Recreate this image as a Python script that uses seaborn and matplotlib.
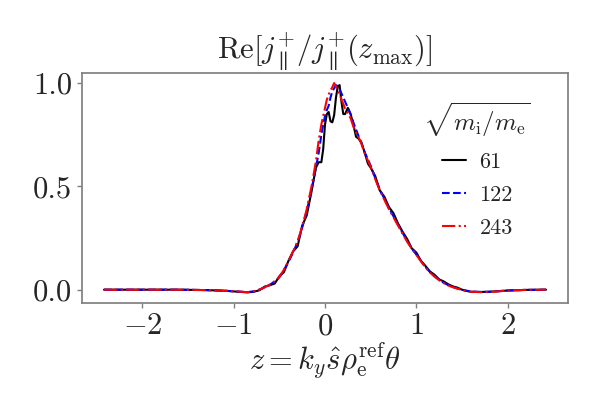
import numpy as np
import pandas as pd
import matplotlib
matplotlib.use("Agg")
import matplotlib.pyplot as plt
import seaborn as sns

# data
z = [-2.42, -2.0, -1.6, -1.3, -1.1, -0.95, -0.85, -0.78, -0.72, -0.66,
     -0.60, -0.55, -0.50, -0.45, -0.40, -0.35, -0.30, -0.25, -0.20, -0.15,
     -0.10, -0.07, -0.04, -0.02, 0.0, 0.02, 0.04, 0.06, 0.08, 0.10,
     0.12, 0.14, 0.16, 0.18, 0.20, 0.22, 0.25, 0.28, 0.31, 0.34,
     0.37, 0.40, 0.43, 0.47, 0.50, 0.55, 0.60, 0.65, 0.70, 0.75,
     0.80, 0.85, 0.90, 0.95, 1.00, 1.05, 1.10, 1.15, 1.20, 1.25,
     1.30, 1.35, 1.40, 1.45, 1.50, 1.55, 1.60, 1.70, 1.80, 1.90,
     2.0, 2.2, 2.42]

j61 = [0.0, 0.0, 0.0, -0.002, -0.005, -0.010, -0.013, -0.010, -0.003, 0.015,
       0.022, 0.030, 0.065, 0.085, 0.140, 0.185, 0.210, 0.310, 0.360, 0.470,
       0.590, 0.617, 0.617, 0.680, 0.800, 0.850, 0.860, 0.815, 0.810, 0.845,
       0.930, 0.985, 0.990, 0.910, 0.850, 0.850, 0.880, 0.850, 0.800, 0.740,
       0.730, 0.710, 0.670, 0.610, 0.590, 0.550, 0.480, 0.450, 0.400, 0.370,
       0.320, 0.280, 0.245, 0.200, 0.180, 0.140, 0.115, 0.088, 0.072, 0.050,
       0.040, 0.026, 0.016, 0.010, 0.000, -0.006, -0.010, -0.011, -0.010, -0.007,
       -0.004, -0.001, 0.0]

j122 = [0.0, 0.0, 0.0, -0.002, -0.005, -0.009, -0.012, -0.008, 0.000, 0.012,
        0.025, 0.040, 0.060, 0.095, 0.135, 0.180, 0.230, 0.300, 0.380, 0.480,
        0.590, 0.660, 0.750, 0.800, 0.840, 0.870, 0.890, 0.930, 0.960, 0.975,
        0.990, 0.985, 0.970, 0.950, 0.930, 0.910, 0.880, 0.850, 0.810, 0.775,
        0.740, 0.710, 0.670, 0.630, 0.600, 0.540, 0.485, 0.440, 0.395, 0.355,
        0.315, 0.275, 0.235, 0.200, 0.170, 0.140, 0.110, 0.085, 0.065, 0.048,
        0.034, 0.022, 0.013, 0.006, 0.000, -0.005, -0.009, -0.011, -0.010, -0.007,
        -0.004, -0.001, 0.0]

j243 = [0.0, 0.0, 0.0, -0.002, -0.005, -0.009, -0.012, -0.008, 0.000, 0.012,
        0.025, 0.042, 0.062, 0.097, 0.140, 0.185, 0.235, 0.305, 0.390, 0.495,
        0.620, 0.720, 0.800, 0.840, 0.880, 0.920, 0.945, 0.965, 0.980, 1.000,
        0.985, 0.960, 0.950, 0.920, 0.900, 0.875, 0.855, 0.830, 0.790, 0.760,
        0.735, 0.705, 0.665, 0.625, 0.595, 0.535, 0.480, 0.435, 0.390, 0.350,
        0.310, 0.270, 0.232, 0.198, 0.168, 0.138, 0.108, 0.083, 0.063, 0.046,
        0.032, 0.020, 0.012, 0.005, -0.001, -0.006, -0.010, -0.012, -0.011, -0.008,
        -0.004, -0.001, 0.0]

labels = ["61", "122", "243"]
colors = ["black", "blue", "red"]
styles = ["-", "--", "-."]

sns.set_theme(style="ticks")
plt.rcParams["font.family"] = "serif"
plt.rcParams["font.serif"] = ["cmr10", "DejaVu Serif"]
plt.rcParams["mathtext.fontset"] = "cm"
plt.rcParams["axes.formatter.use_mathtext"] = True
plt.rcParams["axes.unicode_minus"] = True

fig = plt.figure(figsize=(5.98, 3.99), dpi=100)
ax = fig.add_axes([0.137, 0.241, 0.813, 0.577])

for vals, lab, col, ls in zip([j61, j122, j243], labels, colors, styles):
    sns.lineplot(x=z, y=vals, ax=ax, color=col, linestyle=ls, lw=1.5, label=lab)

ax.set_xticks([-2, -1, 0, 1, 2])
ax.set_yticks([0.0, 0.5, 1.0])
ax.set_yticklabels(["0.0", "0.5", "1.0"])
ax.tick_params(labelsize=22, color="gray", length=3.5, width=1)
for sp in ax.spines.values():
    sp.set_color("gray")
    sp.set_linewidth(1.25)

ax.set_title(r"$\mathrm{Re}[j_{\parallel}^{+}/j_{\parallel}^{+}(z_{\max})]$", fontsize=22, pad=8)
ax.set_xlabel(r"$z = k_y \hat{s} \rho_{\mathrm{e}}^{\mathrm{ref}} \theta$", fontsize=22, labelpad=1)
ax.set_ylabel("")

ax.legend(title=r"$\sqrt{m_{\mathrm{i}}/m_{\mathrm{e}}}$", frameon=False, fontsize=16,
          title_fontsize=18, handlelength=1.1, handletextpad=0.6, labelspacing=0.6,
          loc="upper right", bbox_to_anchor=(0.965, 0.965))

fig.savefig("out.png", dpi=100)
